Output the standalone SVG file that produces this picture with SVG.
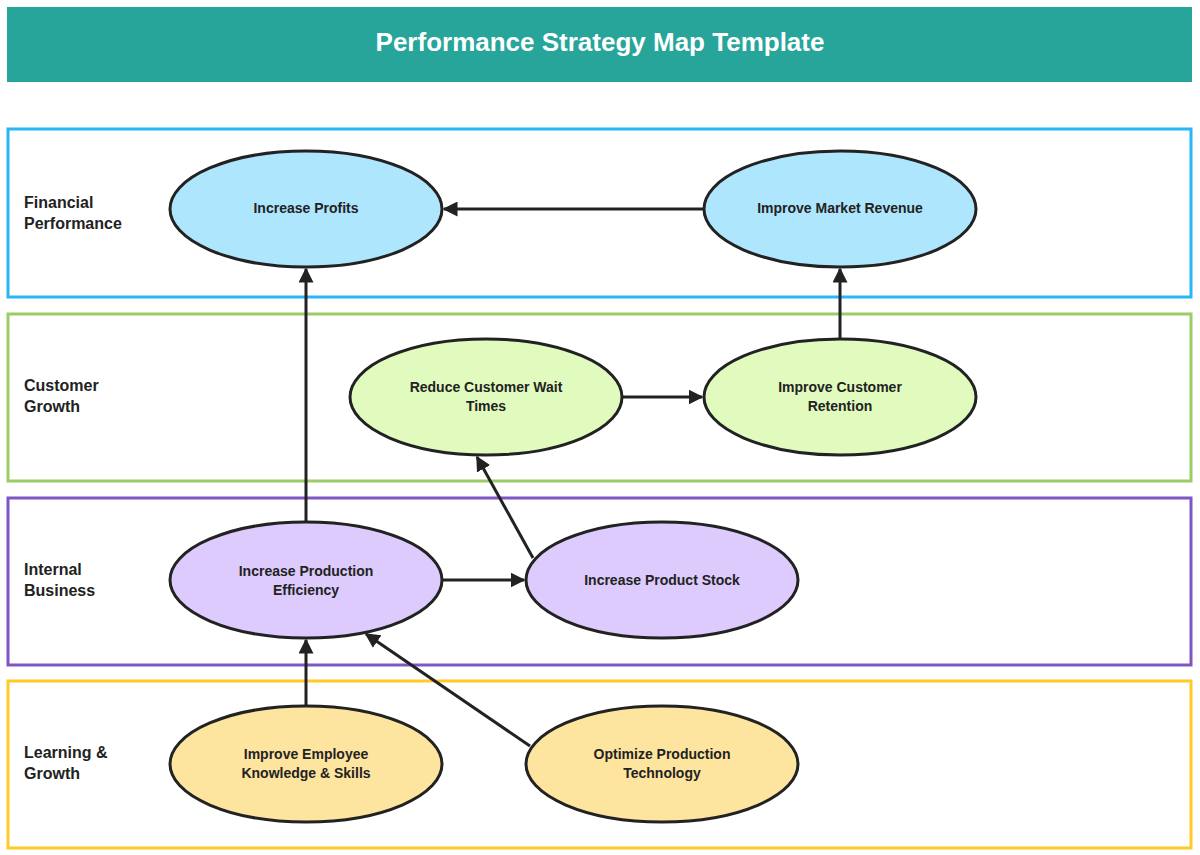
<svg xmlns="http://www.w3.org/2000/svg" width="1200" height="855" viewBox="0 0 1200 855">
<defs>
<marker id="ah" viewBox="0 0 10 10" refX="9" refY="5" markerWidth="5" markerHeight="5" orient="auto"><path d="M0,0 L10,5 L0,10 z" fill="#222"/></marker>
<style>
.band{fill:#fff;stroke-width:3}
.lbl{font-family:"Liberation Sans",Arial,sans-serif;font-size:16px;font-weight:bold;fill:#222}
.n{stroke:#222;stroke-width:3}
.t{font-family:"Liberation Sans",Arial,sans-serif;font-size:14px;font-weight:bold;fill:#222;text-anchor:middle}
.c{stroke:#222;stroke-width:3;fill:none;marker-end:url(#ah)}
</style>
</defs>
<rect width="1200" height="855" fill="#fff"/>
<rect x="7" y="7" width="1185" height="75" fill="#27a59a"/>
<text x="600" y="51" text-anchor="middle" font-family="Liberation Sans,Arial,sans-serif" font-size="26" font-weight="bold" fill="#fff">Performance Strategy Map Template</text>
<rect class="band" x="8" y="129" width="1183" height="168" stroke="#29b6f6"/>
<rect class="band" x="8" y="314" width="1183" height="167" stroke="#9ccc65"/>
<rect class="band" x="8" y="498" width="1183" height="167" stroke="#7e57c2"/>
<rect class="band" x="8" y="681" width="1183" height="167" stroke="#ffca28"/>
<text class="lbl" x="24" y="208">Financial</text><text class="lbl" x="24" y="229">Performance</text>
<text class="lbl" x="24" y="391">Customer</text><text class="lbl" x="24" y="412">Growth</text>
<text class="lbl" x="24" y="575">Internal</text><text class="lbl" x="24" y="596">Business</text>
<text class="lbl" x="24" y="758">Learning &amp;</text><text class="lbl" x="24" y="779">Growth</text>
<g id="connectors">
<line class="c" x1="704" y1="209" x2="444" y2="209"/>
<line class="c" x1="306" y1="522" x2="306" y2="269"/>
<line class="c" x1="840" y1="339" x2="840" y2="269"/>
<line class="c" x1="622" y1="397" x2="702" y2="397"/>
<line class="c" x1="442" y1="580" x2="524" y2="580"/>
<line class="c" x1="533" y1="558" x2="477" y2="457"/>
<line class="c" x1="306" y1="706" x2="306" y2="640"/>
<line class="c" x1="530" y1="746" x2="366" y2="634"/>
</g>
<g id="n1"><ellipse class="n" cx="306" cy="209" rx="136" ry="58" fill="#aee6fd"/><text class="t" x="306" y="213">Increase Profits</text></g>
<g id="n2"><ellipse class="n" cx="840" cy="209" rx="136" ry="58" fill="#aee6fd"/><text class="t" x="840" y="213" font-weight="normal">Improve Market Revenue</text></g>
<g id="n3"><ellipse class="n" cx="486" cy="397" rx="136" ry="58" fill="#e1fbbf"/><text class="t" x="486" y="392">Reduce Customer Wait</text><text class="t" x="486" y="411">Times</text></g>
<g id="n4"><ellipse class="n" cx="840" cy="397" rx="136" ry="58" fill="#e1fbbf"/><text class="t" x="840" y="392">Improve Customer</text><text class="t" x="840" y="411">Retention</text></g>
<g id="n5"><ellipse class="n" cx="306" cy="580" rx="136" ry="58" fill="#dccbfc"/><text class="t" x="306" y="576">Increase Production</text><text class="t" x="306" y="595">Efficiency</text></g>
<g id="n6"><ellipse class="n" cx="662" cy="580" rx="136" ry="58" fill="#dccbfc"/><text class="t" x="662" y="585">Increase Product Stock</text></g>
<g id="n7"><ellipse class="n" cx="306" cy="764" rx="136" ry="58" fill="#fee59f"/><text class="t" x="306" y="759">Improve Employee</text><text class="t" x="306" y="778">Knowledge &amp; Skills</text></g>
<g id="n8"><ellipse class="n" cx="662" cy="764" rx="136" ry="58" fill="#fee59f"/><text class="t" x="662" y="759">Optimize Production</text><text class="t" x="662" y="778">Technology</text></g>
</svg>
